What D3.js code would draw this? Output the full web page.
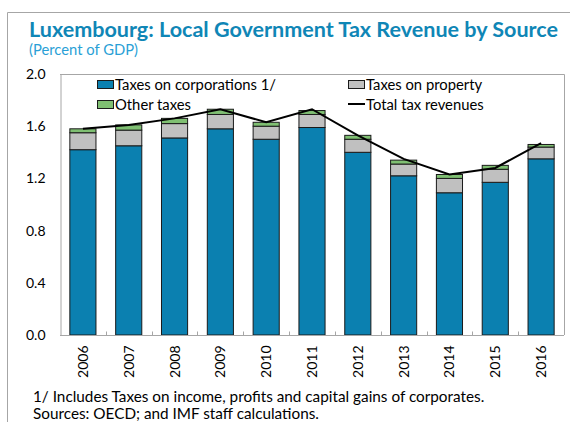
<!DOCTYPE html>
<html><head><meta charset="utf-8">
<script src="https://cdn.jsdelivr.net/npm/d3@7"></script>
<style>body{margin:0;background:#fff;} svg{display:block;font-family:Lato, "Open Sans", sans-serif;}</style>
</head><body>
<svg id="c" width="570" height="422"></svg>
<script>
const years = ["2006","2007","2008","2009","2010","2011","2012","2013","2014","2015","2016"];
const corporations = [1.42,1.45,1.51,1.58,1.50,1.59,1.40,1.22,1.09,1.17,1.35];
const property = [0.13,0.12,0.11,0.11,0.10,0.10,0.10,0.09,0.11,0.10,0.09];
const other = [0.03,0.04,0.04,0.04,0.03,0.03,0.03,0.03,0.03,0.03,0.02];
const totals = [1.58,1.61,1.66,1.73,1.63,1.73,1.53,1.35,1.23,1.28,1.47];
const yTicks = [0,0.4,0.8,1.2,1.6,2.0];
const seriesNames = ["Taxes on corporations 1/","Taxes on property","Other taxes","Total tax revenues"];
const colors = {corp:"#0b80b0", prop:"#c0c0c0", other:"#7fbf72"};

const svg = d3.select("#c");
const m = {l:60, r:564, t:74, b:335};

// outer frame
svg.append("path").attr("d","M7.5,422 V12.5 H572").attr("fill","none").attr("stroke","#a6a6a6").attr("stroke-width",1);

svg.append("text").attr("x",29).attr("y",37).attr("fill","#0f86b6").attr("font-weight","bold")
  .attr("font-size",21).attr("textLength",529).attr("lengthAdjust","spacingAndGlyphs")
  .text("Luxembourg: Local Government Tax Revenue by Source");
svg.append("text").attr("x",29).attr("y",55).attr("fill","#2a9fd6").attr("font-size",14.5)
  .attr("textLength",109).attr("lengthAdjust","spacingAndGlyphs")
  .text("(Percent of GDP)");

const x = d3.scaleBand().domain(years).range([m.l,m.r]).paddingInner(0.43).paddingOuter(0.215);
const xb = d3.scaleBand().domain(years).range([m.l,m.r]);
const y = d3.scaleLinear().domain([0,2]).range([m.b,m.t]);

// plot frame (top/right)
svg.append("path").attr("d",`M${m.l},${m.t+0.5} H${m.r+0.5} V${m.b}`).attr("fill","none").attr("stroke","#a6a6a6");

// y axis
const ya = svg.append("g").attr("transform",`translate(${m.l+0.5},0)`)
  .call(d3.axisLeft(y).tickValues(yTicks).tickFormat(d3.format(".1f")).tickSize(0).tickPadding(15));
ya.select(".domain").attr("stroke","#a6a6a6");
ya.selectAll("text").attr("font-size",14).attr("fill","#000").attr("font-family","Lato, sans-serif");

// bars
const stackData = years.map((yr,i)=>({yr, corp:corporations[i], prop:property[i], other:other[i]}));
const stack = d3.stack().keys(["corp","prop","other"])(stackData);
svg.append("g").selectAll("g").data(stack).join("g").attr("fill",d=>colors[d.key])
  .selectAll("rect").data(d=>d).join("rect")
  .attr("x",d=>x(d.data.yr)).attr("width",x.bandwidth())
  .attr("y",d=>y(d[1])).attr("height",d=>y(d[0])-y(d[1]))
  .attr("stroke","#1a1a1a").attr("stroke-width",1);

// x axis
const xa = svg.append("g").attr("transform",`translate(0,${m.b+0.5})`);
xa.append("line").attr("x1",m.l).attr("x2",m.r).attr("stroke","#a6a6a6");
xa.selectAll("line.t").data(years.slice(1)).join("line").attr("class","t")
  .attr("x1",d=>Math.round(xb(d))+0.5).attr("x2",d=>Math.round(xb(d))+0.5).attr("y1",0).attr("y2",-4).attr("stroke","#a6a6a6");
xa.selectAll("text").data(years).join("text")
  .attr("transform",d=>`translate(${x(d)+x.bandwidth()/2+5},10) rotate(-90)`)
  .attr("text-anchor","end").attr("font-size",14).text(d=>d);

// total line
const line = d3.line().x((d,i)=>x(years[i])+x.bandwidth()/2).y(d=>y(d));
svg.append("path").datum(totals).attr("d",line).attr("fill","none").attr("stroke","#000").attr("stroke-width",2);

// legend
const lg = svg.append("g").attr("font-size",14.8);
const items = [
  {name:seriesNames[0], type:"rect", c:colors.corp, x:97, y:85},
  {name:seriesNames[1], type:"rect", c:colors.prop, x:348, y:85},
  {name:seriesNames[2], type:"rect", c:colors.other, x:97, y:105},
  {name:seriesNames[3], type:"line", c:"#000", x:348, y:105}
];
items.forEach(it=>{
  if(it.type==="rect") lg.append("rect").attr("x",it.x+0.5).attr("y",it.y-4.5).attr("width",16).attr("height",8).attr("fill",it.c).attr("stroke","#1a1a1a");
  else lg.append("line").attr("x1",it.x).attr("x2",it.x+17).attr("y1",it.y-1).attr("y2",it.y-1).attr("stroke","#000").attr("stroke-width",2);
  lg.append("text").attr("x",it.x+18).attr("y",it.y+5).text(it.name);
});

// footnotes
svg.append("text").attr("x",33).attr("y",402).attr("font-size",15.3).text("1/ Includes Taxes on income, profits and capital gains of corporates.");
svg.append("text").attr("x",33).attr("y",419).attr("font-size",15.3).text("Sources: OECD; and IMF staff calculations.");
</script>
</body></html>
